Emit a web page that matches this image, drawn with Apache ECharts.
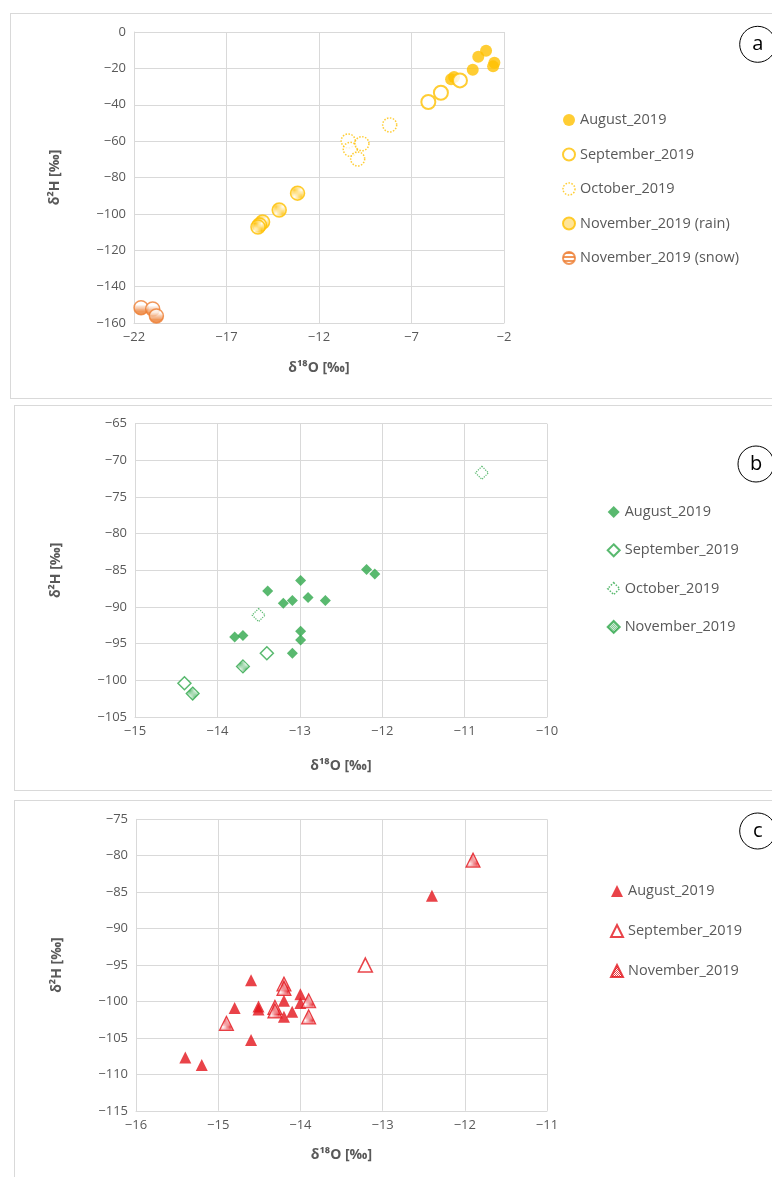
<!DOCTYPE html>
<html>
<head>
<meta charset="utf-8">
<script src="https://cdn.jsdelivr.net/npm/echarts@6/dist/echarts.min.js"></script>
<style>
body{margin:0;width:772px;height:1177px;overflow:hidden;background:#fff;position:relative;}
.panel{position:absolute;border:1px solid #d9d9d9;background:#fff;box-sizing:border-box;}
#pa{left:10px;top:13px;width:790px;height:386px;}
#pb{left:14px;top:405px;width:790px;height:386px;}
#pc{left:14px;top:800px;width:790px;height:400px;}
</style>
</head>
<body>
<div id="pa" class="panel"></div>
<div id="pb" class="panel"></div>
<div id="pc" class="panel"></div>
<script>
// panel a - [δ18O, δ2H]
var aAugust = [[-2.97,-10.3],[-3.39,-13.6],[-3.69,-20.7],[-4.86,-26.0],[-4.70,-24.7],[-2.52,-16.9],[-2.59,-18.9]]
var aSeptember = [[-6.09,-38.5],[-5.41,-33.4],[-4.38,-26.6]]
var aOctober = [[-10.42,-59.9],[-10.31,-64.5],[-9.68,-61.4],[-9.91,-69.8],[-8.18,-51.1]]
var aNovRain = [[-13.16,-88.6],[-14.15,-97.9],[-15.05,-104.5],[-15.22,-106.1],[-15.30,-107.2]]
var aNovSnow = [[-21.62,-151.6],[-20.99,-152.3],[-20.79,-156.1]]

// panel b
var bAugust = [[-12.19,-84.9],[-12.09,-85.5],[-12.99,-86.4],[-13.39,-87.8],[-12.90,-88.7],[-12.69,-89.1],
  [-13.20,-89.5],[-13.09,-89.1],[-12.99,-93.3],[-12.99,-94.5],[-13.79,-94.1],[-13.69,-93.9],[-13.09,-96.3]]
var bSeptember = [[-13.40,-96.3],[-14.40,-100.4]]
var bOctober = [[-13.50,-91.1],[-10.79,-71.7]]
var bNovember = [[-13.69,-98.1],[-14.30,-101.8]]

// panel c
var cAugust = [[-14.60,-97.1],[-14.80,-100.9],[-14.51,-100.7],[-14.51,-101.1],[-14.20,-99.9],[-14.20,-102.1],
  [-14.10,-101.4],[-14.00,-99.0],[-14.00,-100.2],[-14.60,-105.3],[-15.40,-107.7],[-15.20,-108.7],[-12.40,-85.5]]
var cSeptember = [[-13.21,-95.0]]
var cNovember = [[-11.90,-80.6],[-14.20,-97.6],[-14.20,-98.2],[-14.31,-100.8],[-14.31,-101.3],
  [-13.90,-99.9],[-13.90,-102.1],[-14.90,-103.0]]

var FONT = '"Open Sans", "Noto Sans", sans-serif'
var GREY = '#595959'
var GOLD = '#FFC000'
var ORANGE = '#ED7D31'
var GREEN = '#2FA84B'
var RED = '#E3141C'

function pattern(color, kind) {
  var c = document.createElement('canvas')
  c.width = 4; c.height = 4
  var g = c.getContext('2d')
  g.fillStyle = '#fff'
  g.fillRect(0, 0, 4, 4)
  g.fillStyle = color
  if (kind === 'stripes') {
    g.fillRect(0, 0, 4, 2)
  } else {
    // fine 1px checker
    for (var i = 0; i < 4; i++) {
      for (var j = 0; j < 4; j++) {
        if ((i + j) % 2 === 0) g.fillRect(i, j, 1, 1)
      }
    }
  }
  return { image: c, repeat: 'repeat' }
}

function minus(v) {
  return String(v).replace('-', '\u2212')
}

function axis(min, max, interval, name, gap, rotate) {
  return {
    type: 'value', min: min, max: max, interval: interval,
    name: name, nameLocation: 'middle', nameGap: gap, nameRotate: rotate,
    nameTextStyle: { color: GREY, fontFamily: FONT, fontSize: 14, fontWeight: 'bold' },
    axisLine: { show: true, onZero: false, lineStyle: { color: '#d9d9d9' } },
    axisTick: { show: false },
    splitLine: { show: true, lineStyle: { color: '#d9d9d9' } },
    axisLabel: { color: GREY, fontFamily: FONT, fontSize: 13, formatter: minus }
  }
}

function dot(name, data, symbol, size, style) {
  return { type: 'scatter', name: name, data: data, symbol: symbol, symbolSize: size, itemStyle: style, z: 3 }
}

function legend(left, top, gap, names) {
  return {
    orient: 'vertical', left: left, top: top, itemGap: gap,
    itemWidth: 12, itemHeight: 12, data: names,
    textStyle: { color: GREY, fontFamily: FONT, fontSize: 14.5, lineHeight: 16 }
  }
}

function badge(cx, cy, letter) {
  return [
    { type: 'circle', shape: { cx: cx, cy: cy, r: 18 }, style: { fill: '#fff', stroke: '#000', lineWidth: 1 } },
    { type: 'text', x: cx, y: cy, style: { text: letter, fontFamily: FONT, fontSize: 20, fill: '#000', align: 'center', verticalAlign: 'middle' } }
  ]
}

var dottedIcon = { borderType: 'dotted', borderWidth: 1.5 }

var chartA = echarts.init(document.getElementById('pa'))
chartA.setOption({
  animation: false,
  grid: { left: 123, top: 18, width: 370, height: 291 },
  xAxis: axis(-22, -2, 5, 'δ¹⁸O [‰]', 38),
  yAxis: axis(-160, 0, 20, 'δ²H [‰]', 72, 90),
  legend: legend(546, 93, 18.5, ['August_2019', 'September_2019', { name: 'October_2019', itemStyle: dottedIcon },
    'November_2019 (rain)', 'November_2019 (snow)']),
  graphic: badge(746.7, 30.3, 'a'),
  series: [
    dot('August_2019', aAugust, 'circle', 12, { color: GOLD }),
    dot('September_2019', aSeptember, 'circle', 14, { color: '#fff', borderColor: GOLD, borderWidth: 2 }),
    dot('October_2019', aOctober, 'circle', 14, { color: '#fff', borderColor: GOLD, borderWidth: 1.5, borderType: 'dotted' }),
    dot('November_2019 (rain)', aNovRain, 'circle', 14, { color: pattern(GOLD), borderColor: GOLD, borderWidth: 1.5 }),
    dot('November_2019 (snow)', aNovSnow, 'circle', 14, { color: pattern(ORANGE, 'stripes'), borderColor: ORANGE, borderWidth: 1.5 })
  ]
})

var chartB = echarts.init(document.getElementById('pb'))
chartB.setOption({
  animation: false,
  grid: { left: 120, top: 17.7, width: 412, height: 293.3 },
  xAxis: axis(-15, -10, 1, 'δ¹⁸O [‰]', 42),
  yAxis: axis(-105, -65, 5, 'δ²H [‰]', 72, 90),
  legend: legend(586.7, 93, 22.3, ['August_2019', 'September_2019', { name: 'October_2019', itemStyle: dottedIcon },
    'November_2019']),
  graphic: badge(741, 58, 'b'),
  series: [
    dot('August_2019', bAugust, 'diamond', 11, { color: GREEN }),
    dot('September_2019', bSeptember, 'diamond', 13, { color: '#fff', borderColor: GREEN, borderWidth: 1.5 }),
    dot('October_2019', bOctober, 'diamond', 13, { color: '#fff', borderColor: GREEN, borderWidth: 1.2, borderType: 'dotted' }),
    dot('November_2019', bNovember, 'diamond', 13, { color: pattern(GREEN), borderColor: GREEN, borderWidth: 1.2 })
  ]
})

var chartC = echarts.init(document.getElementById('pc'))
chartC.setOption({
  animation: false,
  grid: { left: 121, top: 18.3, width: 411, height: 291.5 },
  xAxis: axis(-16, -11, 1, 'δ¹⁸O [‰]', 37),
  yAxis: axis(-115, -75, 5, 'δ²H [‰]', 72, 90),
  legend: legend(590, 77, 24, ['August_2019', 'September_2019', 'November_2019']),
  graphic: badge(742.7, 30, 'c'),
  series: [
    dot('August_2019', cAugust, 'triangle', 12, { color: RED }),
    dot('September_2019', cSeptember, 'triangle', 14, { color: '#fff', borderColor: RED, borderWidth: 1.5 }),
    dot('November_2019', cNovember, 'triangle', 14, { color: pattern(RED), borderColor: RED, borderWidth: 1.2 })
  ]
})
</script>
</body>
</html>
